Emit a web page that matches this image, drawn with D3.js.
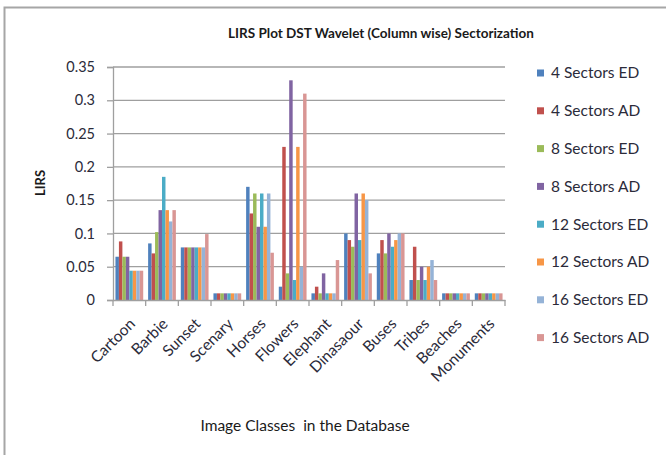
<!DOCTYPE html>
<html>
<head>
<meta charset="utf-8">
<script src="https://cdn.jsdelivr.net/npm/d3@7"></script>
<style>
  body { margin: 0; background: #fff; }
  text { font-family: Lato, "Open Sans", sans-serif; }
</style>
</head>
<body>
<div id="chart"></div>
<script>
var width = 666;
var height = 455;

// image classes
var categories = ["Cartoon", "Barbie", "Sunset", "Scenary", "Horses", "Flowers",
  "Elephant", "Dinasaour", "Buses", "Tribes", "Beaches", "Monuments"];

var seriesNames = ["4 Sectors ED", "4 Sectors AD", "8 Sectors ED", "8 Sectors AD",
  "12 Sectors ED", "12 Sectors AD", "16 Sectors ED", "16 Sectors AD"];

var colors = ["#4F81BD", "#C0504D", "#9BBB59", "#8064A2",
  "#4BACC6", "#F79646", "#95B3D7", "#D99694"];

// one array per series, in category order
var s4ED  = [0.065, 0.085, 0.079, 0.01, 0.17, 0.02, 0.01, 0.1,  0.07, 0.03, 0.01, 0.01];
var s4AD  = [0.088, 0.07,  0.079, 0.01, 0.13, 0.23, 0.02, 0.09, 0.09, 0.08, 0.01, 0.01];
var s8ED  = [0.065, 0.102, 0.079, 0.01, 0.16, 0.04, 0.01, 0.08, 0.07, 0.03, 0.01, 0.01];
var s8AD  = [0.065, 0.135, 0.079, 0.01, 0.11, 0.33, 0.04, 0.16, 0.1,  0.05, 0.01, 0.01];
var s12ED = [0.044, 0.185, 0.079, 0.01, 0.16, 0.03, 0.01, 0.09, 0.08, 0.03, 0.01, 0.01];
var s12AD = [0.044, 0.135, 0.079, 0.01, 0.11, 0.23, 0.01, 0.16, 0.09, 0.05, 0.01, 0.01];
var s16ED = [0.044, 0.118, 0.079, 0.01, 0.16, 0.05, 0.01, 0.15, 0.1,  0.06, 0.01, 0.01];
var s16AD = [0.044, 0.135, 0.099, 0.01, 0.071, 0.31, 0.06, 0.04, 0.1, 0.03, 0.01, 0.01];

var series = [s4ED, s4AD, s8ED, s8AD, s12ED, s12AD, s16ED, s16AD];

var yTicks = [0, 0.05, 0.1, 0.15, 0.2, 0.25, 0.3, 0.35];

var plotLeft = 113, plotRight = 505, plotTop = 67, plotBottom = 300;

var svg = d3.select("#chart")
  .append("svg")
  .attr("width", width)
  .attr("height", height);

// outer chart border
svg.append("rect")
  .attr("x", 4.5)
  .attr("y", 7.5)
  .attr("width", 700)
  .attr("height", 500)
  .style("fill", "white")
  .style("stroke", "#a6a6a6")
  .style("stroke-width", 2);

var x0 = d3.scaleBand()
  .domain(categories)
  .range([plotLeft, plotRight])
  .paddingInner(0.15)
  .paddingOuter(0.075);

var x1 = d3.scaleBand()
  .domain(d3.range(seriesNames.length))
  .range([0, x0.bandwidth()]);

var y = d3.scaleLinear()
  .domain([0, 0.35])
  .range([plotBottom, plotTop]);

// gridlines
svg.append("g")
  .selectAll("line")
  .data(yTicks.slice(1))
  .enter()
  .append("line")
  .attr("x1", plotLeft)
  .attr("x2", plotRight)
  .attr("y1", function(d) { return y(d); })
  .attr("y2", function(d) { return y(d); })
  .style("stroke", "#9f9f9f")
  .style("stroke-width", 1.3);

// bars
var groups = svg.append("g")
  .selectAll("g")
  .data(categories)
  .enter()
  .append("g")
  .attr("transform", function(d) { return "translate(" + x0(d) + ",0)"; });

groups.selectAll("rect")
  .data(function(c, ci) {
    return series.map(function(s, si) { return { si: si, v: s[ci] }; });
  })
  .enter()
  .append("rect")
  .attr("x", function(d) { return x1(d.si); })
  .attr("width", x1.bandwidth())
  .attr("y", function(d) { return y(d.v); })
  .attr("height", function(d) { return plotBottom - y(d.v); })
  .style("fill", function(d) { return colors[d.si]; });

// y axis
var yAxis = d3.axisLeft(y)
  .tickValues(yTicks)
  .tickFormat(function(d) { return d === 0 ? "0" : String(+d.toFixed(2)); })
  .tickSize(6)
  .tickPadding(12);

var gy = svg.append("g")
  .attr("transform", "translate(" + plotLeft + ",0)")
  .call(yAxis);
gy.select(".domain").style("stroke", "#9f9f9f").style("stroke-width", 1.3);
gy.selectAll(".tick line").style("stroke", "#9f9f9f").style("stroke-width", 1.3);
gy.selectAll(".tick text")
  .style("font-family", "Lato, sans-serif")
  .style("font-size", "14.5px")
  .style("fill", "#2b2b3a");

// x axis
var xAxis = d3.axisBottom(x0).tickSize(0).tickFormat("");
var gx = svg.append("g")
  .attr("transform", "translate(0," + plotBottom + ")")
  .call(xAxis);
gx.select(".domain").style("stroke", "#9f9f9f").style("stroke-width", 1.3);

var boundaries = d3.range(categories.length + 1).map(function(i) {
  return plotLeft + i * (plotRight - plotLeft) / categories.length;
});
gx.selectAll(".bound")
  .data(boundaries)
  .enter()
  .append("line")
  .attr("x1", function(d) { return d; })
  .attr("x2", function(d) { return d; })
  .attr("y1", 0)
  .attr("y2", 6)
  .style("stroke", "#9f9f9f")
  .style("stroke-width", 1.3);

svg.append("g")
  .selectAll("text")
  .data(categories)
  .enter()
  .append("text")
  .attr("transform", function(d) {
    return "translate(" + (x0(d) + x0.bandwidth() / 2 + 3) + "," + (plotBottom + 21) + ") rotate(-45)";
  })
  .attr("text-anchor", "end")
  .attr("dy", "0.35em")
  .style("font-size", "15.5px")
  .style("fill", "#2b2b3a")
  .text(function(d) { return d; });

// titles
svg.append("text")
  .attr("x", 381)
  .attr("y", 38)
  .attr("text-anchor", "middle")
  .style("font-size", "13.5px")
  .style("font-weight", "bold")
  .style("fill", "#1a1a1a")
  .text("LIRS Plot DST Wavelet (Column wise) Sectorization");

svg.append("text")
  .attr("transform", "translate(45,183) rotate(-90)")
  .attr("text-anchor", "middle")
  .style("font-size", "13px")
  .style("font-weight", "bold")
  .style("fill", "#1a1a1a")
  .text("LIRS");

svg.append("text")
  .attr("x", 305)
  .attr("y", 431)
  .attr("text-anchor", "middle")
  .style("font-size", "15.5px")
  .style("fill", "#1a1a1a")
  .style("white-space", "pre")
  .text("Image Classes  in the Database");

// legend
var legend = svg.append("g")
  .selectAll("g")
  .data(seriesNames)
  .enter()
  .append("g")
  .attr("transform", function(d, i) { return "translate(537," + (73 + i * 37.8) + ")"; });

legend.append("rect")
  .attr("x", 0)
  .attr("y", -3.5)
  .attr("width", 7)
  .attr("height", 7)
  .style("fill", function(d, i) { return colors[i]; });

legend.append("text")
  .attr("x", 14)
  .attr("dy", "0.35em")
  .style("font-size", "15.5px")
  .style("fill", "#2b2b3a")
  .text(function(d) { return d; });
</script>
</body>
</html>
